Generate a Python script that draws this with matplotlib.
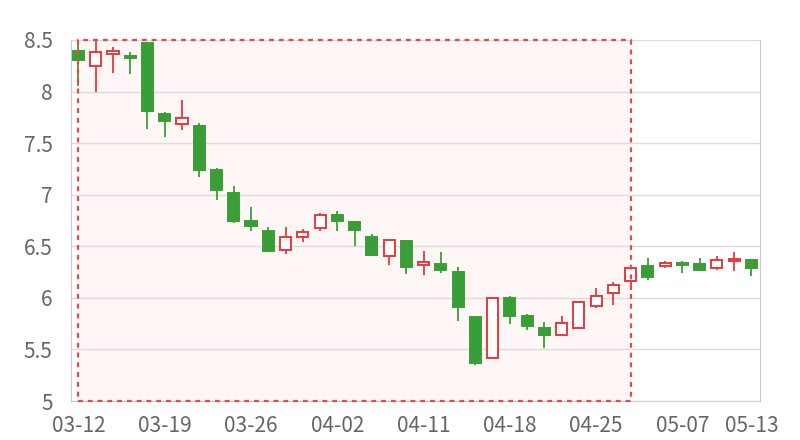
import matplotlib
matplotlib.use("Agg")
import matplotlib.pyplot as plt
from matplotlib.patches import Rectangle

plt.rcParams['font.family'] = ['Noto Sans CJK SC', 'DejaVu Sans']

dates = ['03-12', '03-13', '03-14', '03-15', '03-16', '03-19', '03-20', '03-21',
         '03-22', '03-23', '03-26', '03-27', '03-28', '03-29', '03-30', '04-02',
         '04-03', '04-04', '04-09', '04-10', '04-11', '04-12', '04-13', '04-16',
         '04-17', '04-18', '04-19', '04-20', '04-23', '04-24', '04-25', '04-26',
         '04-27', '05-02', '05-03', '05-07', '05-08', '05-09', '05-10', '05-13']
opens = [8.39, 8.25, 8.36, 8.34, 8.47, 7.78, 7.69, 7.67, 7.24, 7.02,
         6.75, 6.65, 6.46, 6.59, 6.68, 6.80, 6.74, 6.59, 6.41, 6.55,
         6.32, 6.33, 6.25, 5.81, 5.42, 6.00, 5.82, 5.71, 5.64, 5.71,
         5.92, 6.05, 6.16, 6.31, 6.31, 6.34, 6.33, 6.29, 6.36, 6.37]
closes = [8.31, 8.38, 8.39, 8.33, 7.81, 7.71, 7.74, 7.24, 7.05, 6.75,
          6.70, 6.45, 6.59, 6.64, 6.80, 6.75, 6.66, 6.42, 6.56, 6.30,
          6.35, 6.27, 5.91, 5.37, 6.00, 5.82, 5.73, 5.64, 5.76, 5.96,
          6.02, 6.12, 6.29, 6.20, 6.34, 6.32, 6.27, 6.37, 6.37, 6.29]
highs = [8.48, 8.50, 8.43, 8.38, 8.48, 7.80, 7.92, 7.70, 7.26, 7.08,
         6.88, 6.69, 6.69, 6.67, 6.82, 6.84, 6.74, 6.62, 6.56, 6.55,
         6.45, 6.44, 6.30, 5.81, 6.00, 6.02, 5.84, 5.77, 5.82, 5.97,
         6.10, 6.15, 6.32, 6.39, 6.36, 6.36, 6.39, 6.41, 6.44, 6.38]
lows = [8.05, 8.00, 8.18, 8.17, 7.64, 7.56, 7.63, 7.17, 6.95, 6.73,
        6.65, 6.44, 6.43, 6.54, 6.65, 6.65, 6.50, 6.42, 6.32, 6.23,
        6.22, 6.24, 5.78, 5.35, 5.42, 5.75, 5.69, 5.51, 5.63, 5.71,
        5.90, 5.93, 6.08, 6.17, 6.29, 6.24, 6.26, 6.27, 6.26, 6.21]

# highlighted range
mark_start = '03-12'
mark_end = '04-27'
mark_low = 5.0
mark_high = 8.5

up_color = '#e8393d'
down_color = '#3a9e37'

fig = plt.figure(figsize=(8, 4.4), dpi=100)
ax = fig.add_axes([0.0884, 0.0886, 0.8616, 0.8205])

x = list(range(len(dates)))
for i in x:
    o, c, h, l = opens[i], closes[i], highs[i], lows[i]
    if c >= o:
        col = up_color
        face = 'white'
    else:
        col = down_color
        face = down_color
    ax.vlines(i, l, h, color=col, linewidth=1.3, zorder=2)
    ax.bar(i, max(abs(c - o), 0.012), bottom=min(o, c), width=0.64,
           color=face, edgecolor=col, linewidth=1.4, zorder=3)

# shaded mark area
i0 = dates.index(mark_start)
i1 = dates.index(mark_end)
ax.add_patch(Rectangle((i0, mark_low), i1 - i0, mark_high - mark_low,
                       facecolor='#fff6f6', edgecolor='none', zorder=0.2))
ax.add_patch(Rectangle((i0, mark_low), i1 - i0, mark_high - mark_low,
                       facecolor='none', edgecolor='#e8474b', linewidth=1.6,
                       linestyle=(0, (2.2, 2.2)), zorder=4, clip_on=False))

ax.set_xlim(-0.45, len(dates) - 0.5)
ax.set_ylim(5, 8.5)
ax.set_yticks([5, 5.5, 6, 6.5, 7, 7.5, 8, 8.5])
ax.set_yticklabels(['5', '5.5', '6', '6.5', '7', '7.5', '8', '8.5'])

label_idx = list(range(0, len(dates), 5)) + [len(dates) - 1]
ax.set_xticks(label_idx)
ax.set_xticklabels([dates[i] for i in label_idx])

ax.set_axisbelow(True)
ax.grid(axis='y', color='#dcdcdc', linewidth=1)
ax.tick_params(length=0, labelsize=15, labelcolor='#666666')
ax.tick_params(axis='y', pad=13)
ax.tick_params(axis='x', pad=10)
for s in ['left', 'right', 'bottom']:
    ax.spines[s].set_color('#cccccc')
ax.spines['top'].set_visible(False)

fig.savefig('out.png', dpi=100)
